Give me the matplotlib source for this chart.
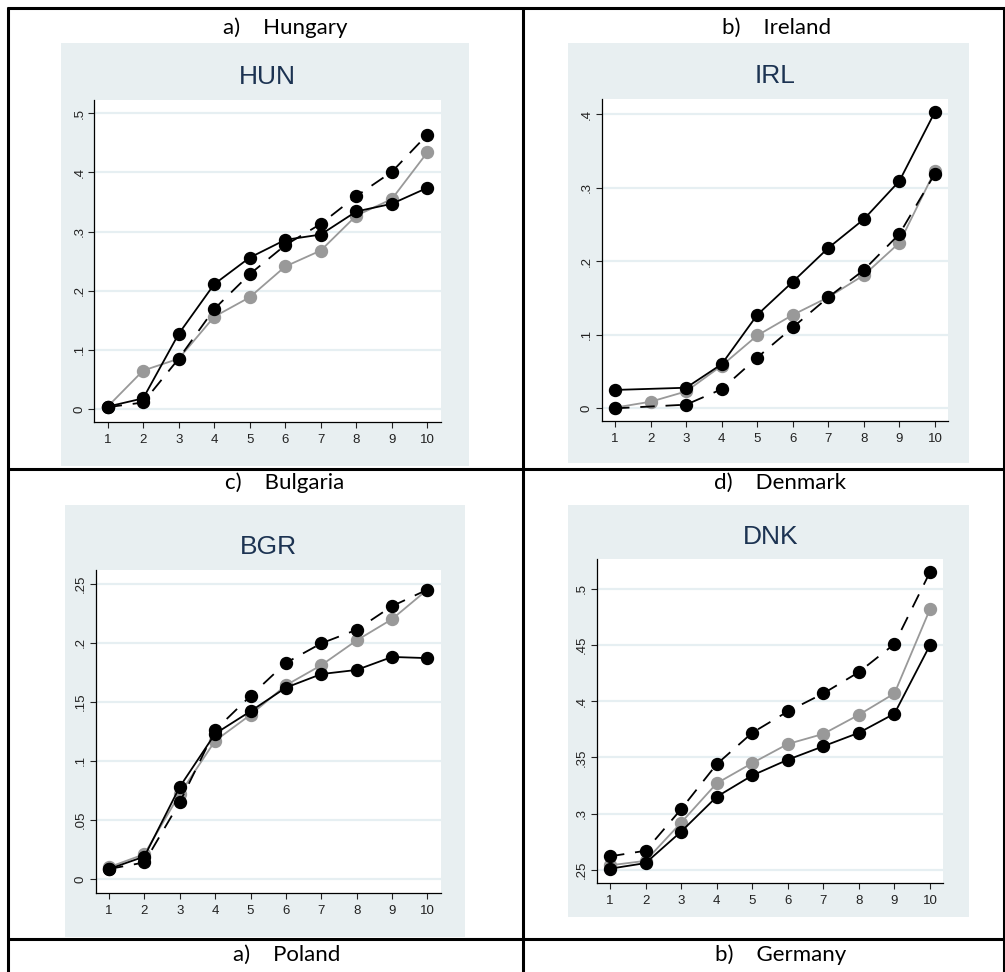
import numpy as np
import matplotlib
matplotlib.use("Agg")
import matplotlib.pyplot as plt
from matplotlib.patches import Rectangle
from matplotlib.lines import Line2D

# ---------------- data ----------------
deciles = [1, 2, 3, 4, 5, 6, 7, 8, 9, 10]

hun_solid = [0.004, 0.018, 0.127, 0.211, 0.256, 0.286, 0.295, 0.334, 0.347, 0.374]
hun_dash  = [0.003, 0.011, 0.085, 0.169, 0.228, 0.277, 0.313, 0.360, 0.401, 0.464]
hun_gray  = [0.004, 0.065, 0.085, 0.156, 0.189, 0.241, 0.268, 0.327, 0.355, 0.434]

irl_solid = [0.025, None, 0.028, 0.060, 0.127, 0.172, 0.218, 0.257, 0.309, 0.403]
irl_dash  = [0.000, None, 0.005, 0.026, 0.069, 0.110, 0.151, 0.188, 0.237, 0.319]
irl_gray  = [0.001, 0.009, 0.023, 0.058, 0.099, 0.127, 0.151, 0.181, 0.225, 0.323]

bgr_solid = [0.0085, 0.019, 0.078, 0.123, 0.142, 0.162, 0.1735, 0.177, 0.188, 0.187]
bgr_dash  = [0.0085, 0.014, 0.065, 0.126, 0.155, 0.183, 0.1995, 0.211, 0.231, 0.245]
bgr_gray  = [0.010, 0.021, 0.072, 0.117, 0.139, 0.164, 0.181, 0.202, 0.220, 0.245]

dnk_solid = [0.251, 0.256, 0.284, 0.315, 0.334, 0.348, 0.360, 0.372, 0.389, 0.450]
dnk_dash  = [0.262, 0.267, 0.304, 0.344, 0.372, 0.391, 0.407, 0.426, 0.451, 0.515]
dnk_gray  = [0.254, 0.258, 0.292, 0.327, 0.345, 0.362, 0.371, 0.388, 0.407, 0.482]

panel_titles = ["HUN", "IRL", "BGR", "DNK"]
cell_labels = ["a)    Hungary", "b)    Ireland", "c)    Bulgaria", "d)    Denmark",
               "a)    Poland", "b)    Germany"]

hun_yticks = [0, 0.1, 0.2, 0.3, 0.4, 0.5]
hun_ylabels = ["0", ".1", ".2", ".3", ".4", ".5"]
irl_yticks = [0, 0.1, 0.2, 0.3, 0.4]
irl_ylabels = ["0", ".1", ".2", ".3", ".4"]
bgr_yticks = [0, 0.05, 0.1, 0.15, 0.2, 0.25]
bgr_ylabels = ["0", ".05", ".1", ".15", ".2", ".25"]
dnk_yticks = [0.25, 0.3, 0.35, 0.4, 0.45, 0.5]
dnk_ylabels = [".25", ".3", ".35", ".4", ".45", ".5"]

# ---------------- layout ----------------
W, H = 1005, 972
fig = plt.figure(figsize=(W / 100, H / 100), dpi=100)
fig.patch.set_facecolor("white")

def fbox(x0, y0, x1, y1):
    return [x0 / W, 1 - y1 / H, (x1 - x0) / W, (y1 - y0) / H]

BG = "#e8eff1"
GRID = "#e6eff2"
TITLE_C = "#1c3352"

# table lines
def hline(y, x0, x1):
    fig.add_artist(Line2D([x0 / W, x1 / W], [1 - y / H, 1 - y / H], color="black",
                          lw=2.2, transform=fig.transFigure, solid_capstyle="butt"))

def vline(x, y0, y1):
    fig.add_artist(Line2D([x / W, x / W], [1 - y0 / H, 1 - y1 / H], color="black",
                          lw=2.2, transform=fig.transFigure, solid_capstyle="butt"))

hline(8.5, 7, 1005)
hline(469, 7, 1005)
hline(939, 7, 1005)
vline(8, 7.5, 972)
vline(523, 7.5, 972)
vline(1003.5, 7.5, 972)

# cell labels
label_pos = [(285, 28), (777, 28), (285, 483), (780, 483), (287, 955), (781, 955)]
for txt, (x, y) in zip(cell_labels, label_pos):
    fig.text(x / W, 1 - y / H, txt, ha="center", va="center", fontsize=16,
             family=["Lato", "DejaVu Sans"], color="black")

panels = [
    dict(bg=(61, 43, 469, 466), ax=(94.3, 100, 440.7, 422), title_xy=(267, 77),
         ylim=(-0.022, 0.5225), yt=hun_yticks, yl=hun_ylabels,
         s=hun_solid, d=hun_dash, g=hun_gray, title=panel_titles[0]),
    dict(bg=(568, 43, 969, 463), ax=(601.7, 99.3, 948.3, 420.7), title_xy=(775, 76),
         ylim=(-0.0168, 0.420), yt=irl_yticks, yl=irl_ylabels,
         s=irl_solid, d=irl_dash, g=irl_gray, title=panel_titles[1]),
    dict(bg=(65, 505, 465, 937), ax=(95.7, 570, 440.7, 893.3), title_xy=(268, 547),
         ylim=(-0.0121, 0.2616), yt=bgr_yticks, yl=bgr_ylabels,
         s=bgr_solid, d=bgr_dash, g=bgr_gray, title=panel_titles[2]),
    dict(bg=(568, 505, 969, 917), ax=(596.7, 559, 943.3, 883.3), title_xy=(771, 537),
         ylim=(0.238, 0.5267), yt=dnk_yticks, yl=dnk_ylabels,
         s=dnk_solid, d=dnk_dash, g=dnk_gray, title=panel_titles[3]),
]

def pairs(vals):
    xs = [x for x, v in zip(deciles, vals) if v is not None]
    ys = [v for v in vals if v is not None]
    return xs, ys

MS = 8.6
LW = 1.3
for p in panels:
    x0, y0, x1, y1 = p["bg"]
    fig.add_artist(Rectangle((x0 / W, 1 - y1 / H), (x1 - x0) / W, (y1 - y0) / H,
                             transform=fig.transFigure, facecolor=BG, edgecolor="none",
                             zorder=0))
    ax = fig.add_axes(fbox(*p["ax"]))
    ax.set_facecolor("white")
    ax.set_xlim(0.625, 10.375)
    ax.set_ylim(*p["ylim"])
    for yv in p["yt"]:
        ax.axhline(yv, color=GRID, lw=1.6, zorder=1)
    gx, gy = pairs(p["g"])
    ax.plot(gx, gy, color="#999999", lw=LW, marker="o", ms=MS, mec="#999999",
            mfc="#999999", zorder=3)
    sx, sy = pairs(p["s"])
    ax.plot(sx, sy, color="black", lw=LW, marker="o", ms=MS, zorder=4)
    dx, dy = pairs(p["d"])
    ax.plot(dx, dy, color="black", lw=LW, marker="o", ms=MS, zorder=5,
            linestyle=(0, (8, 6)))
    ax.set_xticks(deciles)
    ax.set_yticks(p["yt"])
    ax.tick_params(axis="both", direction="out", length=4.5, width=0.8, color="#222222",
                   labelcolor="#222222")
    ax.tick_params(axis="x", pad=4)
    ax.tick_params(axis="y", pad=2)
    ax.set_xticklabels([str(d) for d in deciles], fontsize=9.5,
                       family=["Liberation Sans", "DejaVu Sans"])
    ax.set_yticklabels(p["yl"], rotation=90, va="center", fontsize=9.5,
                       family=["Liberation Sans", "DejaVu Sans"])
    for side in ["top", "right"]:
        ax.spines[side].set_visible(False)
    for side in ["left", "bottom"]:
        ax.spines[side].set_color("black")
        ax.spines[side].set_linewidth(0.9)
    tx, ty = p["title_xy"]
    fig.text(tx / W, 1 - ty / H, p["title"], ha="center", va="center", fontsize=19,
             family=["Liberation Sans", "DejaVu Sans"], color=TITLE_C)

fig.savefig("out.png", dpi=100, facecolor="white")
